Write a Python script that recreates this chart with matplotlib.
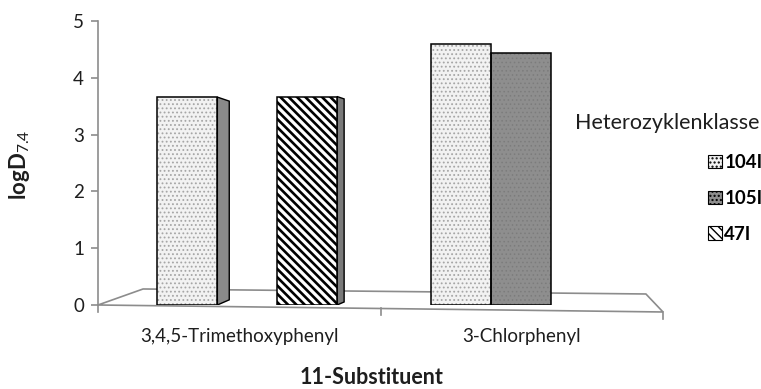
import numpy as np
import matplotlib
matplotlib.use('Agg')
import matplotlib.pyplot as plt
from matplotlib.patches import Polygon, Patch

plt.rcParams['font.family'] = ['Lato', 'DejaVu Sans']
plt.rcParams['mathtext.fontset'] = 'custom'
plt.rcParams['mathtext.rm'] = 'Lato'
plt.rcParams['mathtext.bf'] = 'Lato:bold'

# logD7.4 per substituent and heterocycle class (nan = not measured)
categories = ['3,4,5-Trimethoxyphenyl', '3-Chlorphenyl']
series = ['104I', '105I', '47I']
logd_104 = [3.66, 4.60]
logd_105 = [np.nan, 4.44]
logd_47 = [3.67, np.nan]
y_ticks = [0, 1, 2, 3, 4, 5]

values = [logd_104, logd_105, logd_47]

# fill / hatch per series
face = {'104I': '#f2f2f2', '105I': '#8e8e8e', '47I': 'white'}
hatch = {'104I': '....', '105I': '....', '47I': '\\\\\\\\'}
hatch_col = {'104I': '#a6a6a6', '105I': '#7c7c7c', '47I': 'black'}
hatch_lw = {'104I': 0.8, '105I': 0.6, '47I': 1.9}
side_col = {'104I': '#8a8a8a', '105I': '#6e6e6e', '47I': '#7a7a7a'}

BAR_W = 0.212
VANISH_X, VANISH_Y = 1.45, 2.06   # crude pseudo-3D perspective
DEPTH = 0.97                      # bars sit slightly behind the front edge
SIDE_K, SIDE_C = 0.041, 1.05
GRID = '#8c8c8c'
TXT = '#1e1e1e'


def to_depth(x, s):
    return VANISH_X + (np.asarray(x, float) - VANISH_X) * s


fig = plt.figure(figsize=(7.61, 3.89), dpi=100)
ax = fig.add_axes([98 / 761, 84 / 389, 565 / 761, 284 / 389])
ax.set_xlim(0, 2)
ax.set_ylim(0, 5)

# floor of the 3D box
back = to_depth([0, 2], 0.89)
floor = Polygon([[0, 0], [2, -0.123], [back[1], 0.194], [back[0], 0.282]],
                closed=True, fill=False, edgecolor=GRID, lw=1.2,
                clip_on=False, zorder=1)
ax.add_patch(floor)
for xt in [0, 1, 2]:
    y0 = -0.123 * xt / 2
    ax.plot([xt, xt], [y0, y0 - 0.12], color=GRID, lw=1.2, clip_on=False, zorder=1)

centers = to_depth(np.arange(len(categories)) + 0.5, DEPTH)
handles = []
for k, name in enumerate(series):
    vals = np.array(values[k])
    xs = centers + (k - 1) * BAR_W
    ok = np.isfinite(vals)
    filled = ax.bar(xs[ok], vals[ok], BAR_W, color=face[name], hatch=hatch[name],
                    edgecolor=hatch_col[name], linewidth=0, zorder=3)
    for b in filled:
        if hasattr(b, 'set_hatch_linewidth'):
            b.set_hatch_linewidth(hatch_lw[name])
    ax.bar(xs[ok], vals[ok], BAR_W, fill=False, edgecolor='black', linewidth=1.1, zorder=4)

    # right side face, only when the next slot is empty and left of the vanishing line
    for i in np.where(ok)[0]:
        nxt = values[k + 1][i] if k + 1 < len(series) else np.nan
        r = xs[i] + BAR_W / 2
        if np.isfinite(nxt) or r >= VANISH_X:
            continue
        w = SIDE_K * (VANISH_X - r)
        s = 1 - SIDE_C * w
        top = VANISH_Y + (vals[i] - VANISH_Y) * s
        bot = VANISH_Y + (0 - VANISH_Y) * s
        side = Polygon([[r, 0], [r, vals[i]], [r + w, top], [r + w, bot]], closed=True,
                       facecolor=side_col[name], edgecolor='black', lw=1.0, zorder=2)
        ax.add_patch(side)

    h = Patch(facecolor=face[name], edgecolor='black', hatch=hatch[name], lw=0.8)
    handles.append(h)

# axes styling
for sp in ['top', 'right', 'bottom']:
    ax.spines[sp].set_visible(False)
ax.spines['left'].set_color(GRID)
ax.spines['left'].set_linewidth(1.2)
ax.set_yticks(y_ticks)
ax.tick_params(axis='y', length=5, width=1.2, color=GRID, labelsize=13.5,
               labelcolor=TXT, pad=5)
ax.set_xticks([])

for i, cat in enumerate(categories):
    ax.text(i + 0.5, -0.55, cat, ha='center', va='center', fontsize=13.5, color=TXT)

fig.text(372 / 761, 1 - 377 / 389, '11-Substituent', ha='center', va='center',
         fontsize=15.5, fontweight='bold', color=TXT)
fig.text(19 / 761, 1 - 165 / 389, r'logD$_{7.4}$', ha='center', va='center',
         rotation=90, fontsize=16, fontweight='bold', color=TXT)

fig.text(575 / 761, 1 - 123 / 389, 'Heterozyklenklasse', ha='left', va='center',
         fontsize=15.5, color=TXT)
fig.legend(handles, series, loc='upper left', bbox_to_anchor=(708 / 761, 1 - 154 / 389),
           frameon=False, borderpad=0, borderaxespad=0, handlelength=0.72,
           handleheight=0.72, handletextpad=0.15, labelspacing=1.0,
           prop={'weight': 'bold', 'size': 13.5})

fig.savefig('out.png', dpi=100)
